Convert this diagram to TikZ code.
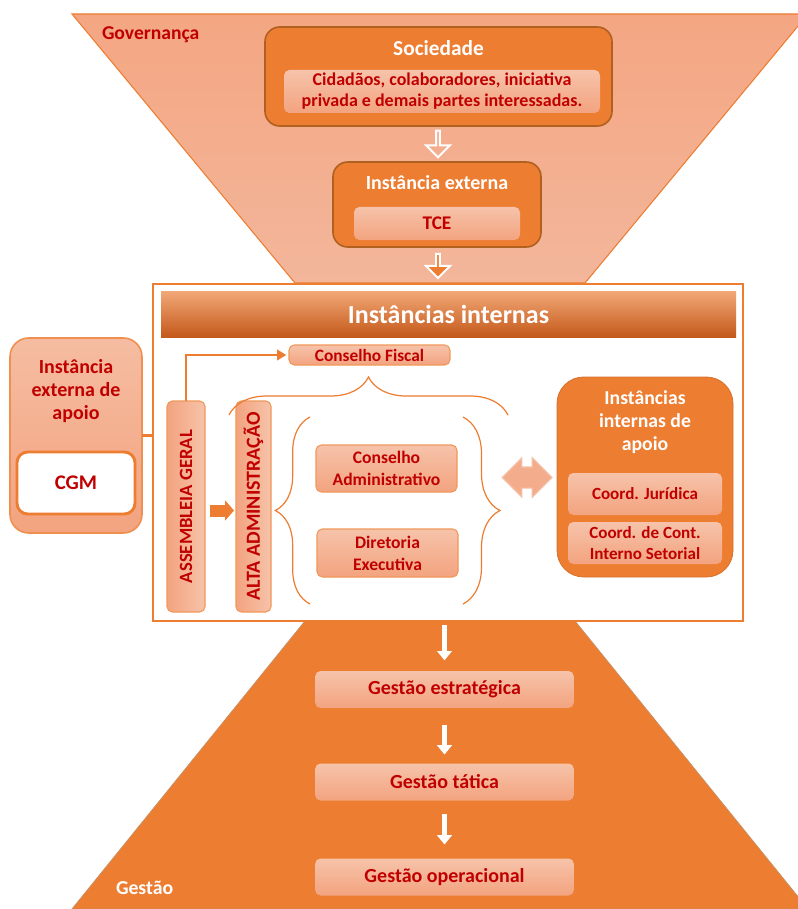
\documentclass[tikz,border=0pt]{standalone}
\usepackage{fontspec}
\setmainfont{Carlito}
\usetikzlibrary{shapes.arrows,decorations.pathreplacing,arrows.meta}
\definecolor{laranja}{HTML}{ED7D31}
\definecolor{bordalar}{HTML}{B0601F}
\definecolor{claroA}{HTML}{F6C3AA}
\definecolor{claroB}{HTML}{F3A37F}
\definecolor{trapA}{HTML}{F4A682}
\definecolor{trapB}{HTML}{F3B69B}
\definecolor{vermelho}{HTML}{C00000}
\definecolor{barraA}{HTML}{F2A878}
\definecolor{barraB}{HTML}{C4591A}

\begin{document}
\begin{tikzpicture}[x=0.75pt,y=-0.75pt,inner sep=0pt,outer sep=0pt,
caixa/.style={draw=bordalar,fill=laranja,rounded corners=11pt,line width=1.2pt},
clara/.style={rounded corners=4pt,top color=claroA,bottom color=claroB,text=vermelho,align=center,font=\bfseries\fontsize{13}{16}\selectfont},
claraborda/.style={clara,draw=laranja!80,line width=0.8pt},
titulo/.style={text=white,align=center,font=\bfseries\fontsize{15}{17}\selectfont},
vertical/.style={rotate=90,rounded corners=4pt,draw=laranja!80,line width=0.8pt,left color=claroB,right color=claroA,text=vermelho,font=\bfseries\fontsize{14}{16}\selectfont},
chave/.style={draw=laranja,line width=0.9pt,decorate},
setaoca/.style={single arrow,draw=white,line width=1.5pt,rotate=-90,minimum height=20pt,minimum width=18pt,single arrow head extend=4pt},
setabranca/.style={draw=white,line width=3.5pt,-{Triangle[length=7pt,width=11pt]}},
gestao/.style={clara,minimum width=194pt,minimum height=27.75pt,font=\bfseries\fontsize{15}{17}\selectfont}]

\useasboundingbox (0,0) rectangle (798,909);
\clip (0,0) rectangle (798,909);

% governanca / gestao
\draw[draw=laranja,line width=0.8pt,top color=trapA,bottom color=trapB] (72,14) -- (808,14) -- (585,283) -- (295,283) -- cycle;
\draw[draw=bordalar!70,line width=0.6pt,fill=laranja] (305,621) -- (575,621) -- (808,909) -- (72,909) -- cycle;
\draw (102,35) node[anchor=west,text=vermelho,font=\bfseries\fontsize{14.7}{17}\selectfont] (gov) {Governança};
\draw (116,888) node[anchor=west,text=white,font=\bfseries\fontsize{14.8}{17}\selectfont] (gest) {Gestão};

% sociedade
\draw (438.5,76.5) node[caixa,minimum width=260.25pt,minimum height=74.25pt] (soc) {};
\draw (438.5,48) node[titulo,font=\bfseries\fontsize{16}{18}\selectfont] (soctit) {Sociedade};
\draw (442,91.5) node[clara,minimum width=237pt,minimum height=32.25pt,font=\bfseries\fontsize{13.5}{15.75}\selectfont] (socint) {Cidadãos, colaboradores, iniciativa\\privada e demais partes interessadas.};
\draw (438,143) node[setaoca] (seta1) {};

% instancia externa
\draw (437,204.5) node[caixa,minimum width=156pt,minimum height=63.75pt] (ext) {};
\draw (437,183) node[titulo] (exttit) {Instância externa};
\draw (437,223.5) node[clara,minimum width=124.5pt,minimum height=24.75pt,font=\bfseries\fontsize{14.5}{16}\selectfont] (tce) {TCE};
\draw (438,265) node[setaoca,fill=laranja,minimum height=18pt] (seta2) {};

% instancias internas
\draw (448,452.5) node[draw=laranja,fill=white,line width=1.6pt,minimum width=442.5pt,minimum height=252.75pt] (main) {};
\draw (448.5,314) node[top color=barraA,bottom color=barraB,minimum width=431.25pt,minimum height=34.5pt,text=white,font=\bfseries\fontsize{19.5}{21}\selectfont] (barra) {Instâncias internas};

% externa de apoio
\draw (76,435.5) node[rounded corners=14pt,draw=laranja!85,line width=1.2pt,top color=claroA!80!claroB,bottom color=claroB,minimum width=99pt,minimum height=146.25pt] (apoioext) {};
\draw (76,391) node[text=vermelho,align=center,font=\bfseries\fontsize{15}{17.25}\selectfont] (apoiotit) {Instância\\externa de\\apoio};
\draw (76,483) node[rounded corners=8pt,draw=laranja,line width=2.2pt,fill=white,minimum width=88.5pt,minimum height=46.5pt,text=vermelho,font=\bfseries\fontsize{15.6}{17}\selectfont] (cgm) {CGM};
\draw[draw=laranja,line width=1.6pt] (apoioext.east) -- (apoioext.east -| main.west);

% assembleia e alta administracao
\draw (186,506.5) node[vertical,minimum width=158.25pt,minimum height=28.5pt] (assemb) {ASSEMBLEIA GERAL};
\draw (253.5,506.5) node[vertical,minimum width=158.25pt,minimum height=26.25pt,font=\bfseries\fontsize{15}{17}\selectfont] (alta) {ALTA ADMINISTRAÇÃO};
\draw (369.5,355) node[claraborda,minimum width=120.75pt,minimum height=15pt,font=\bfseries\fontsize{13}{14}\selectfont] (fiscal) {Conselho Fiscal};
\draw[draw=laranja,line width=1.5pt,-{Triangle[length=7pt,width=8pt]},shorten >=2pt] (assemb.east) |- (fiscal.west);
\draw[draw=laranja,line width=9pt,-{Triangle[length=6.75pt,width=15pt]},shorten <=3.75pt,shorten >=1.5pt] ([yshift=-3pt]assemb.south) -- ([yshift=-3pt]alta.north);

\draw (386.5,468.5) node[claraborda,minimum width=105.75pt,minimum height=35.25pt,font=\bfseries\fontsize{13.2}{16.5}\selectfont] (consadm) {Conselho\\Administrativo};
\draw (387.5,553) node[claraborda,minimum width=105.75pt,minimum height=36pt,font=\bfseries\fontsize{13.2}{16.5}\selectfont] (direx) {Diretoria\\Executiva};

% chaves
\draw[chave,decoration={brace,amplitude=28.5pt}] (229,415) -- (508,415);
\draw[chave,decoration={brace,amplitude=26pt}] (310,604) -- (310,417);
\draw[chave,decoration={brace,amplitude=27.75pt}] (463,417) -- (463,604);
\draw (527,477.5) node[double arrow,draw=claroA,line width=0.8pt,fill=claroB!70!claroA,inner ysep=7.5pt,minimum height=37.5pt,double arrow head extend=7pt] (seta4) {};

% internas de apoio
\draw (645,477) node[rounded corners=20pt,fill=laranja,draw=laranja!90!black,line width=0.6pt,minimum width=132pt,minimum height=150pt] (apoioint) {};
\draw (645,422) node[titulo,font=\bfseries\fontsize{14.8}{17}\selectfont] (intit) {Instâncias\\internas de\\apoio};
\draw (645,494) node[clara,minimum width=115.5pt,minimum height=31.5pt,font=\bfseries\fontsize{12.8}{15.75}\selectfont] (jur) {Coord. Jurídica};
\draw (645,543) node[clara,minimum width=115.5pt,minimum height=31.5pt,font=\bfseries\fontsize{12.8}{15.75}\selectfont] (cont) {Coord. de Cont.\\Interno Setorial};

% niveis de gestao
\draw (444.5,689.5) node[gestao] (estr) {Gestão estratégica};
\draw (444.5,782) node[gestao] (tat) {Gestão tática};
\draw (444.5,877) node[gestao] (oper) {Gestão operacional};
\draw[setabranca,shorten <=3pt,shorten >=8pt] (main.south -| estr.north) -- (estr.north);
\draw[setabranca,shorten <=12.75pt,shorten >=6.75pt] (estr) -- (tat);
\draw[setabranca,shorten <=9.75pt,shorten >=10.5pt] (tat) -- (oper);
\end{tikzpicture}
\end{document}
